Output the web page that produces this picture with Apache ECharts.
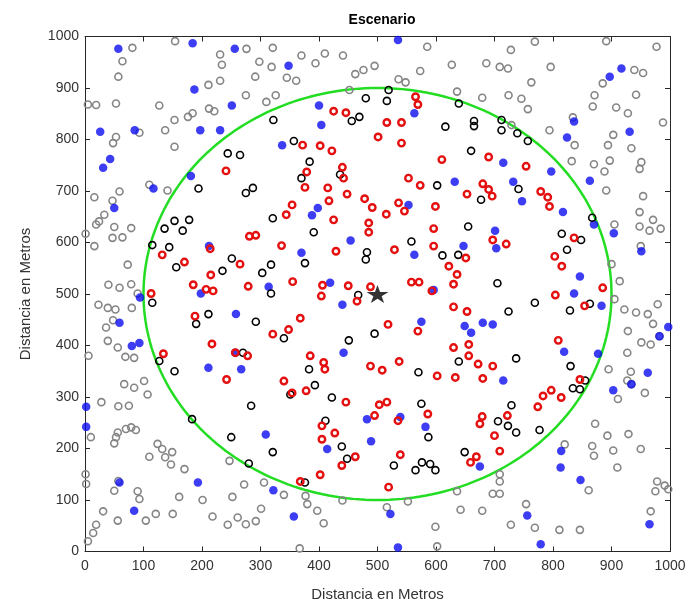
<!DOCTYPE html>
<html><head><meta charset="utf-8">
<script src="https://cdn.jsdelivr.net/npm/echarts@6/dist/echarts.min.js"></script>
<style>html,body{margin:0;padding:0;background:#fff}#c{width:689px;height:615px}</style>
</head><body><div id="c"></div>
<script>
const xTicks = [0,100,200,300,400,500,600,700,800,900,1000];
const yTicks = [0,100,200,300,400,500,600,700,800,900,1000];
const coverage = [[500,500,400]]; // center x, center y, radius
const baseStation = [[500,500]];

const grayPts = [
[81,978],[154,991],[64,952],[57,922],[231,965],[234,945],[276,976],[298,951],[319,941],[321,978],[291,922],[231,914],[211,906],[275,886],[310,873],[5,868],[19,867],[53,870],[127,866],[153,838],[137,818],[176,844],[184,851],[212,860],[221,855],[53,805],[48,793],[93,813],[153,786],[326,886],
[370,963],[394,948],[410,967],[441,963],[345,920],[361,914],[462,927],[476,935],[495,943],[536,917],[548,911],[573,933],[585,980],[627,945],[452,896],[636,893],
[769,990],[891,991],[977,980],[728,974],[686,948],[709,941],[723,938],[796,941],[763,911],[679,881],[724,886],[746,879],[757,859],[939,935],[954,929],[885,909],[871,886],[868,864],[942,887],[908,862],[928,851],[988,833],[794,818],[834,843],[837,789],[903,809],[894,789],[934,783],[729,828],
[110,712],[141,701],[16,688],[47,681],[59,699],[33,654],[24,641],[19,635],[50,630],[79,628],[1,617],[47,609],[64,610],[16,593],[73,557],
[832,758],[870,752],[897,759],[888,738],[891,701],[951,756],[948,743],[954,690],[948,659],[971,644],[984,627],[948,631],[905,635],[950,593],[965,623],[900,558],[914,525],
[40,518],[59,512],[79,519],[23,479],[39,473],[52,470],[80,473],[48,449],[36,435],[39,409],[56,396],[69,378],[84,376],[6,380],[90,501],[67,325],[84,318],[101,331],[107,305],[28,290],[57,282],[75,283],
[905,490],[922,470],[942,464],[962,461],[979,480],[971,442],[928,428],[951,406],[967,402],[927,386],[895,354],[933,349],[927,332],[957,308],[911,296],[982,418],[934,325],
[10,222],[53,222],[56,231],[50,210],[70,238],[79,241],[87,236],[124,209],[132,199],[149,193],[110,184],[137,183],[147,169],[170,160],[1,150],[2,131],[50,118],[90,117],[93,102],[161,106],[201,100],[31,78],[56,60],[19,52],[104,60],[121,73],[150,73],[218,68],[247,176],[272,130],[252,106],[301,83],[261,66],[244,52],[275,53],[292,59],[306,134],[57,137],
[340,110],[377,108],[380,92],[397,79],[408,55],[440,99],[516,86],[552,97],[636,117],[642,81],[599,48],
[820,208],[872,248],[893,225],[929,228],[950,199],[867,205],[870,186],[903,196],[910,163],[861,119],[709,150],[709,136],[697,112],[709,112],[679,79],[754,92],[728,52],[769,46],[811,42],[846,42],[978,136],[991,128],[975,117],[997,121],[967,78],
[5,20],[14,36],[367,6],[602,10]
];

const bluePts = [
[57,976],[184,987],[256,976],[187,897],[251,866],[26,815],[85,818],[197,818],[231,818],[43,762],[31,745],
[535,993],[348,943],[400,866],[404,828],[337,789],[563,851],
[917,938],[897,922],[836,835],[824,804],[931,815],
[181,729],[117,705],[50,667],[212,593],
[398,667],[388,653],[454,604],[632,718],[553,673],[370,580],[563,576],[647,593],[419,522],
[715,755],[797,738],[732,718],[747,680],[817,659],[863,720],[870,635],[904,618],[701,623],[703,589],[951,583],[846,534],
[94,493],[59,444],[80,399],[93,405],[258,461],[211,357],[267,354],[314,514],[2,281],[198,501],[257,386],
[440,479],[442,386],[575,446],[649,438],[660,425],[596,508],
[836,501],[883,477],[680,444],[697,441],[819,388],[877,384],[715,332],[962,347],[934,325],[997,436],[982,418],[903,313],
[2,242],[59,134],[84,79],[193,134],[322,119],[309,227],
[482,257],[539,261],[582,242],[414,199],[489,214],[357,68],[522,73],
[814,195],[813,163],[847,139],[756,70],[965,53],[675,165],
[535,8],[779,14]
];

const redPts = [
[425,855],[446,852],[565,883],[569,868],[516,833],[541,833],[501,805],[541,793],[372,789],[402,788],[422,778],[610,761],[690,766],
[241,739],[281,612],[292,614],[132,576],[170,562],[214,588],[265,558],[215,537],[185,518],[279,515],
[440,746],[379,737],[376,707],[442,725],[415,706],[448,694],[417,681],[354,673],[344,654],[478,685],[491,668],[515,655],[425,644],[485,638],[485,620],[553,725],[573,711],[536,677],[546,661],[653,694],[599,670],[596,627],[596,593],[529,586],[429,583],[336,594],[355,524],[622,554],[636,538],[651,570],[558,523],[571,523],[406,517],[450,516],[488,514],
[754,748],[680,714],[690,703],[696,690],[779,699],[791,688],[794,670],[697,605],[720,597],[836,609],[803,573],[815,554],[885,512],
[113,501],[207,509],[219,506],[188,457],[217,403],[134,384],[257,386],[278,380],[242,334],[321,422],
[404,496],[465,486],[593,506],[630,519],[630,475],[653,466],[368,453],[348,431],[518,441],[569,428],[630,396],[656,402],[656,380],[385,380],[408,367],[410,354],[488,360],[508,352],[537,369],[602,341],[633,338],[340,331],[354,308],[378,312],[446,290],[503,285],[516,290],
[804,498],[854,477],[809,410],[672,364],[697,360],[680,336],[846,334],[797,313],[814,299],[783,302],[774,281],
[495,264],[586,267],[535,254],[405,244],[427,230],[405,218],[462,184],[439,167],[539,188],[402,149],[368,136],[519,125],[659,173],
[679,262],[675,248],[700,225],[709,195],[722,264],[669,184]
];

const blackPts = [
[244,773],[265,770],[322,838],
[480,880],[519,896],[516,875],[639,870],[456,836],[469,844],[616,825],[357,797],[384,757],[660,778],
[665,836],[665,826],[712,838],[712,818],[739,812],[757,797],
[194,705],[275,696],[287,706],[321,647],[136,627],[153,642],[178,644],[167,623],[115,595],[144,591],[156,552],[251,569],[235,545],[318,557],[303,541],
[370,725],[436,732],[602,711],[391,620],[655,631],[558,602],[482,581],[480,567],[376,560],[611,575],[638,576],
[741,704],[677,683],[867,648],[815,617],[848,605],[824,586],[705,521],
[115,483],[211,461],[190,442],[292,446],[318,501],[127,370],[153,350],[270,386],[284,283],
[467,498],[495,423],[451,410],[340,414],[383,354],[393,323],[351,305],[422,299],[570,348],[575,287],[639,369],
[769,483],[724,466],[829,468],[863,481],[737,375],[830,360],[855,332],[846,315],[834,317],[729,284],
[183,257],[250,222],[321,193],[280,171],
[411,254],[439,204],[448,180],[376,134],[528,167],[565,158],[576,173],[590,170],[599,158],[587,222],[649,193],
[706,253],[723,244],[737,231],[777,236]
];

const chart = echarts.init(document.getElementById('c'), null, {renderer:'canvas'});
const axisColor = '#262626';
const labelFont = 'Liberation Sans, Arial, sans-serif';
function xAx(pos, showLabel, name){
  return {type:'value', position:pos, min:0, max:1000, interval:100,
    axisLine:{show:true, onZero:false, lineStyle:{color:axisColor, width:1}},
    axisTick:{show:true, inside:true, length:5, lineStyle:{color:axisColor}},
    axisLabel:{show:showLabel, color:'#333', fontSize:14, fontFamily:labelFont, margin:8,
      formatter: v => xTicks.includes(v) ? String(v) : ''},
    splitLine:{show:false},
    name:name, nameLocation:'middle', nameGap:36,
    nameTextStyle:{color:'#333', fontSize:15, fontFamily:labelFont}};
}
function yAx(pos, showLabel, name){
  return {type:'value', position:pos, min:0, max:1000, interval:100,
    axisLine:{show:true, onZero:false, lineStyle:{color:axisColor, width:1}},
    axisTick:{show:true, inside:true, length:5, lineStyle:{color:axisColor}},
    axisLabel:{show:showLabel, color:'#333', fontSize:14, fontFamily:labelFont, margin:6,
      formatter: v => yTicks.includes(v) ? String(v) : ''},
    splitLine:{show:false},
    name:name, nameLocation:'middle', nameGap:52,
    nameTextStyle:{color:'#333', fontSize:15, fontFamily:labelFont}};
}
function hollow(data, color, size, bw){
  return {type:'scatter', data:data, symbol:'circle', symbolSize:size, silent:true,
    itemStyle:{color:'rgba(0,0,0,0)', borderColor:color, borderWidth:bw, opacity:1}};
}
chart.setOption({
  animation:false,
  title:{text:'Escenario', left:377, top:8, textAlign:'center',
    textStyle:{fontSize:14, fontWeight:'bold', color:'#000', fontFamily:labelFont}},
  grid:{left:85, right:19, top:36.5, bottom:63.5, containLabel:false},
  xAxis:[xAx('bottom', true, 'Distancia en Metros'), xAx('top', false, '')],
  yAxis:[yAx('left', true, 'Distancia en Metros'), yAx('right', false, '')],
  series:[
    {type:'custom', data:coverage, silent:true, z:1,
      renderItem:(params, api)=>{
        const cx=api.value(0), cy=api.value(1), r=api.value(2);
        const pts=[];
        for(let i=0;i<=240;i++){const t=2*Math.PI*i/240; pts.push(api.coord([cx+r*Math.cos(t), cy+r*Math.sin(t)]));}
        return {type:'polyline', shape:{points:pts}, style:{stroke:'#22dd22', lineWidth:2.5, fill:null}};
      }},
    hollow(grayPts, '#858585', 7, 1.6),
    {type:'scatter', data:bluePts, symbol:'circle', symbolSize:8.5, silent:true,
      itemStyle:{color:'#0c0cf0'}},
    hollow(blackPts, '#000000', 7, 1.6),
    hollow(redPts, '#e41010', 6.5, 2.4),
    {type:'scatter', data:baseStation, silent:true,
      symbol:'path://M50,0 L61,35 L98,35 L68,57 L79,91 L50,70 L21,91 L32,57 L2,35 L39,35 Z',
      symbolSize:[22,18], itemStyle:{color:'#000'}}
  ]
});
</script></body></html>
